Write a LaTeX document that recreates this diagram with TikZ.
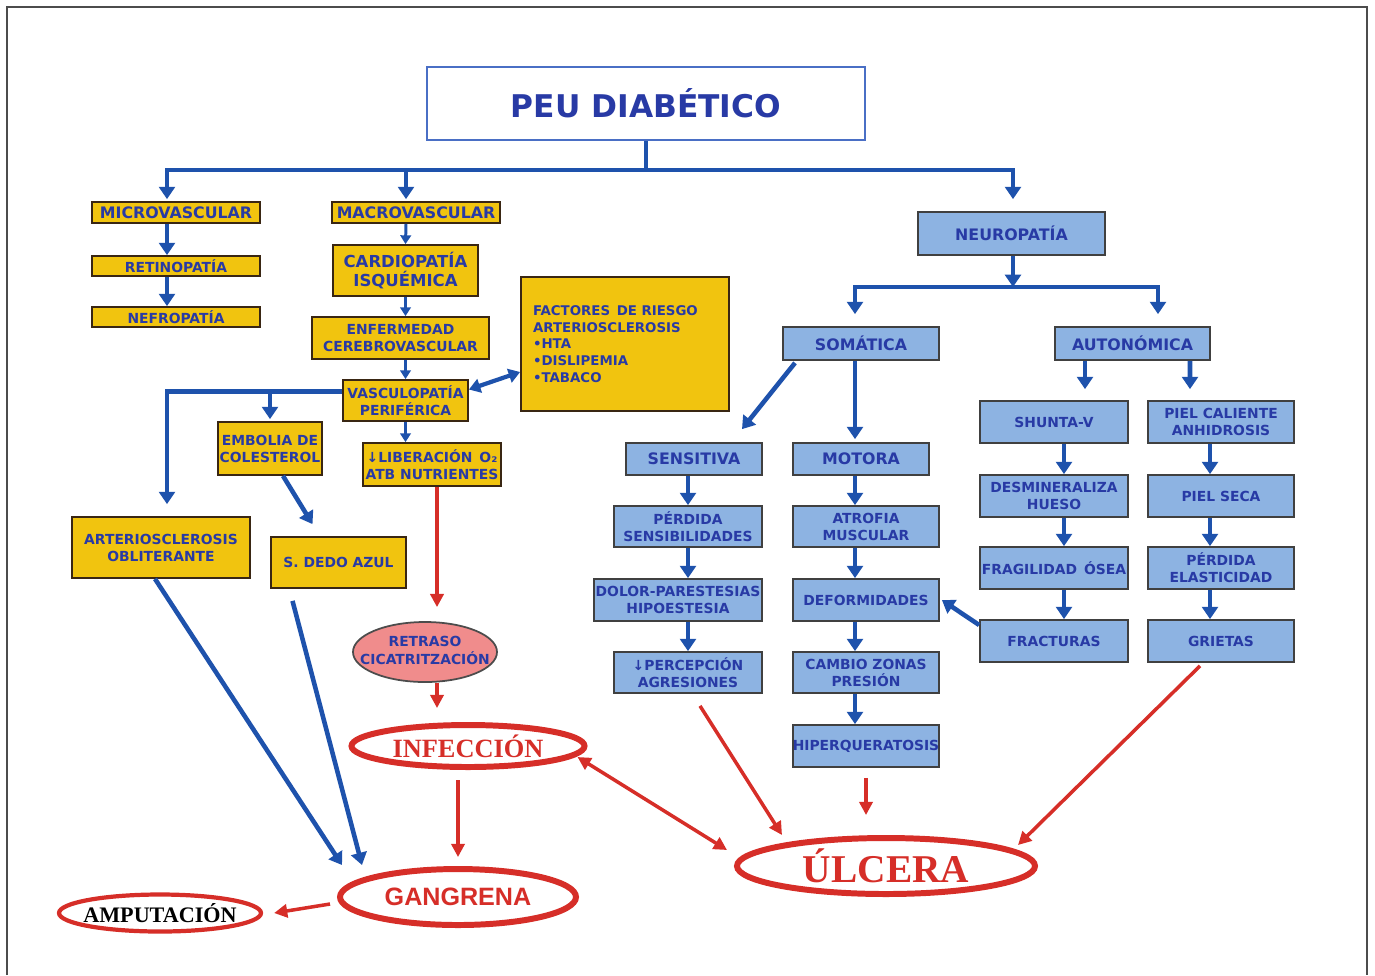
\documentclass[tikz,border=0pt]{standalone}
\usepackage{fontspec}
\setmainfont{DejaVu Sans}
\newfontfamily\timesfont{Liberation Serif}
\newfontfamily\arialfont{Liberation Sans}
\usepackage{tikz}
\usetikzlibrary{positioning, arrows.meta, shapes.geometric, calc}

\definecolor{gold}{RGB}{241,196,15}
\definecolor{skyb}{RGB}{141,179,226}
\definecolor{txtblue}{RGB}{40,58,165}
\definecolor{arrblue}{RGB}{30,82,172}
\definecolor{arrred}{RGB}{214,46,40}
\definecolor{rosa}{RGB}{240,140,140}
\definecolor{titleline}{RGB}{74,111,197}

\newlength\pxl
\setlength\pxl{0.02cm}

\tikzset{
    sz/.style 2 args={minimum width=#1\pxl, minimum height=#2\pxl},
    ybox/.style={rectangle, draw=black!70!brown, line width=1pt, fill=gold, text=txtblue,
        inner sep=0pt, align=center, font=\bfseries\fontsize{7.9}{9.6}\selectfont},
    bbox/.style={ybox, draw=black!75, fill=skyb},
    hd/.style={font=\bfseries\fontsize{9}{10.8}\selectfont},
    titlebox/.style={rectangle, draw=titleline, line width=1.2pt, fill=white, text=txtblue,
        font=\bfseries\fontsize{17.8}{20}\selectfont},
    redell/.style={ellipse, draw=arrred, line width=3.4pt, fill=white, inner sep=0pt, text=arrred},
    barrow/.style={draw=arrblue, line width=2.6pt, -{Triangle[width=9pt, length=7pt]}},
    sbarrow/.style={draw=arrblue, line width=1.7pt, -{Triangle[width=6pt, length=5pt]}},
    rarrow/.style={draw=arrred, line width=2pt, -{Triangle[width=7.5pt, length=7.5pt]}},
    rboth/.style={draw=arrred, line width=2pt, {Triangle[width=7.5pt, length=7.5pt]}-{Triangle[width=7.5pt, length=7.5pt]}},
    bboth/.style={draw=arrblue, line width=2.4pt, {Triangle[width=8pt, length=6.5pt]}-{Triangle[width=8pt, length=6.5pt]}},
}

\begin{document}
\begin{tikzpicture}[x=0.02cm, y=-0.02cm]
    \useasboundingbox (0,0) rectangle (1375,975);
    % page frame
    \draw[black!70, line width=1pt] (7,975) -- (7,7) -- (1367,7) -- (1367,975);

    % title
    \node[titlebox, sz={438}{73}] (peu) at (646,103.5) {PEU DIABÉTICO};
    \coordinate (bus) at (646,170);

    % vascular branch
    \node[ybox, hd, sz={168}{21}] (micro) at (176,212.5) {MICROVASCULAR};
    \node[ybox, sz={168}{20}] (retino) at (176,266) {RETINOPATÍA};
    \node[ybox, sz={168}{20}] (nefro) at (176,317) {NEFROPATÍA};

    \node[ybox, hd, sz={168}{21}] (macro) at (416,212.5) {MACROVASCULAR};
    \node[ybox, sz={145}{51}, font=\bfseries\fontsize{9.4}{10.8}\selectfont] (cardio) at (405.5,270.5) {CARDIOPATÍA\\ISQUÉMICA};
    \node[ybox, sz={177}{42}] (enfer) at (400.5,338) {ENFERMEDAD\\CEREBROVASCULAR};
    \node[ybox, sz={125}{41}] (vasc) at (405.5,400.5) {VASCULOPATÍA\\PERIFÉRICA};
    \node[ybox, sz={138}{43}] (liber) at (432,464.5) {↓LIBERACIÓN\enspace O₂\\ATB NUTRIENTES};
    \node[ybox, sz={208}{134}, text width=184\pxl, inner xsep=12\pxl, align=left,
          font=\bfseries\fontsize{7.6}{9.5}\selectfont] (factors) at (625,344)
        {FACTORES\enspace DE RIESGO\\ARTERIOSCLEROSIS\\•HTA\\•DISLIPEMIA\\•TABACO};
    \node[ybox, sz={104}{53}] (embol) at (270,448.5) {EMBOLIA DE\\COLESTEROL};
    \node[ybox, sz={178}{61}] (arter) at (161,547.5) {ARTERIOSCLEROSIS\\OBLITERANTE};
    \node[ybox, sz={135}{51}] (dedo) at (338.5,562.5) {S. DEDO AZUL};

    % neuropathy branch
    \node[bbox, hd, sz={187}{43}] (neuro) at (1011.5,233.5) {NEUROPATÍA};
    \coordinate (nsplit) at (1013,287);
    \node[bbox, hd, sz={156}{33}] (soma) at (861,343.5) {SOMÁTICA};
    \node[bbox, hd, sz={155}{33}] (auto) at (1132.5,343.5) {AUTONÓMICA};

    \node[bbox, hd, sz={136}{32}] (sens) at (694,459) {SENSITIVA};
    \node[bbox, sz={148}{41}] (perd) at (688,526.5) {PÉRDIDA\\SENSIBILIDADES};
    \node[bbox, sz={168}{42}] (dolor) at (678,600) {DOLOR-PARESTESIAS\\HIPOESTESIA};
    \node[bbox, sz={148}{41}] (percep) at (688,672.5) {↓PERCEPCIÓN\\AGRESIONES};

    \node[bbox, hd, sz={136}{32}] (motora) at (861,459) {MOTORA};
    \node[bbox, sz={146}{41}] (atrof) at (866,526.5) {ATROFIA\\MUSCULAR};
    \node[bbox, sz={146}{42}] (deform) at (866,600) {DEFORMIDADES};
    \node[bbox, sz={146}{41}] (cambio) at (866,672.5) {CAMBIO ZONAS\\PRESIÓN};
    \node[bbox, sz={146}{42}] (hiper) at (866,746) {HIPERQUERATOSIS};

    \node[bbox, sz={148}{42}] (shunt) at (1054,422) {SHUNTA-V};
    \node[bbox, sz={148}{42}] (desm) at (1054,496) {DESMINERALIZA\\HUESO};
    \node[bbox, sz={148}{42}] (frag) at (1054,568) {FRAGILIDAD\enspace ÓSEA};
    \node[bbox, sz={148}{42}] (fract) at (1054,641) {FRACTURAS};

    \node[bbox, sz={146}{42}] (pielc) at (1221,422) {PIEL CALIENTE\\ANHIDROSIS};
    \node[bbox, sz={146}{42}] (piels) at (1221,496) {PIEL SECA};
    \node[bbox, sz={146}{42}] (perde) at (1221,568) {PÉRDIDA\\ELASTICIDAD};
    \node[bbox, sz={146}{42}] (griet) at (1221,641) {GRIETAS};

    % outcomes
    \node[ellipse, draw=black!70, line width=1pt, fill=rosa, inner sep=0pt, sz={144}{60}, text=txtblue,
          font=\bfseries\fontsize{7.9}{9.6}\selectfont] (retraso) at (425,652)
        {\makebox[0pt]{\begin{tabular}{@{}c@{}}RETRASO\\CICATRITZACIÓN\end{tabular}}};
    \node[redell, sz={233}{42}, font=\timesfont\bfseries\fontsize{15}{16}\selectfont] (infec) at (468,746) {INFECCIÓN};
    \node[redell, sz={236}{56}, font=\arialfont\bfseries\fontsize{14.3}{16}\selectfont] (gang) at (458,897) {GANGRENA};
    \node[redell, line width=2.4pt, sz={202}{37}, text=black, font=\timesfont\bfseries\fontsize{12.6}{14}\selectfont] (amput) at (160,913)
        {\makebox[0pt]{AMPUTACIÓN}};
    \node[redell, sz={298}{56}, font=\timesfont\bfseries\fontsize{22.4}{24}\selectfont] (ulcer) at (886,866) {ÚLCERA};

    % blue connectors, top
    \draw[draw=arrblue, line width=2.6pt] (peu.south) -- (bus);
    \draw[barrow, shorten >=2\pxl] (bus) -| ([xshift=-9\pxl]micro.north);
    \draw[barrow, shorten >=2\pxl] (bus) -| ([xshift=-10\pxl]macro.north);
    \draw[barrow, shorten >=12\pxl] (bus) -| ([xshift=1.5\pxl]neuro.north);

    \draw[barrow] ([xshift=-9\pxl]micro.south) -- ([xshift=-9\pxl]retino.north);
    \draw[barrow] ([xshift=-9\pxl]retino.south) -- ([xshift=-9\pxl]nefro.north);

    \draw[sbarrow] ([xshift=-10\pxl]macro.south) -- (cardio.north);
    \draw[sbarrow] (cardio.south) -- (cardio.south |- enfer.north);
    \draw[sbarrow] (vasc.north |- enfer.south) -- (vasc.north);
    \draw[sbarrow] (vasc.south) -- (vasc.south |- liber.north);
    \draw[bboth] ([yshift=11\pxl]vasc.east) -- ([yshift=-28\pxl]factors.west);

    \coordinate (vb) at ([yshift=9\pxl]vasc.west);
    \draw[barrow, shorten >=12\pxl] (vb) -| ([xshift=6\pxl]arter.north);
    \draw[barrow, shorten >=2\pxl] (embol.north |- vb) -- (embol.north);
    \draw[barrow] ([xshift=13\pxl]embol.south) -- ([xshift=-26\pxl, yshift=12\pxl]dedo.north);
    \draw[barrow] ([xshift=-6\pxl]arter.south) -- ([xshift=-116\pxl, yshift=1\pxl]gang.north);
    \draw[barrow] ([xshift=-46\pxl, yshift=-12\pxl]dedo.south) -- ([xshift=-96\pxl, yshift=1\pxl]gang.north);

    % blue connectors, neuropathy
    \draw[barrow] (neuro.south -| nsplit) -- (nsplit);
    \draw[barrow, shorten >=12\pxl] (nsplit) -| ([xshift=-6\pxl]soma.north);
    \draw[barrow, shorten >=12\pxl] (nsplit) -| ([xshift=25.5\pxl]auto.north);
    \draw[barrow] ([xshift=-66\pxl, yshift=-2\pxl]soma.south) -- ([xshift=48\pxl, yshift=13\pxl]sens.north);
    \draw[barrow] ([xshift=-6\pxl]soma.south) -- ([xshift=-6\pxl, yshift=3\pxl]motora.north);

    \draw[barrow] ([xshift=-6\pxl]sens.south) -- (perd.north);
    \draw[barrow] (perd.south) -- ([xshift=10\pxl]dolor.north);
    \draw[barrow] ([xshift=10\pxl]dolor.south) -- (percep.north);

    \draw[barrow] ([xshift=-6\pxl]motora.south) -- ([xshift=-11\pxl]atrof.north);
    \foreach \a/\b in {atrof/deform, deform/cambio, cambio/hiper}
        \draw[barrow] ([xshift=-11\pxl]\a.south) -- ([xshift=-11\pxl]\b.north);

    \draw[barrow] ([xshift=-47.5\pxl]auto.south) -- ([xshift=31\pxl, yshift=11\pxl]shunt.north);
    \draw[barrow] ([xshift=57.5\pxl]auto.south) -- ([xshift=-31\pxl, yshift=11\pxl]pielc.north);
    \foreach \a/\b in {shunt/desm, desm/frag, frag/fract}
        \draw[barrow] ([xshift=10\pxl]\a.south) -- ([xshift=10\pxl]\b.north);
    \foreach \a/\b in {pielc/piels, piels/perde, perde/griet}
        \draw[barrow] ([xshift=-11\pxl]\a.south) -- ([xshift=-11\pxl]\b.north);
    \draw[barrow] ([yshift=16\pxl]fract.west) -- ([xshift=2\pxl]deform.east);

    % red connectors
    \draw[rarrow] ([xshift=5\pxl]liber.south) -- ([xshift=12\pxl, yshift=14\pxl]retraso.north);
    \draw[rarrow] ([xshift=12\pxl]retraso.south) -- ([xshift=-31\pxl, yshift=14\pxl]infec.north);
    \draw[rarrow] ([xshift=-10\pxl, yshift=-10\pxl]infec.south) -- ([yshift=9\pxl]gang.north);
    \draw[rarrow] ([xshift=-7\pxl, yshift=-7\pxl]gang.west) -- ([xshift=11\pxl]amput.east);
    \draw[rboth] ([xshift=-10\pxl, yshift=-11\pxl]infec.east) -- ([xshift=-7\pxl, yshift=16\pxl]ulcer.west);
    \draw[rarrow] ([xshift=12\pxl, yshift=-12\pxl]percep.south) -- ([xshift=-104\pxl]ulcer.north);
    \draw[rarrow] ([yshift=-10\pxl]hiper.south) -- ([xshift=-20\pxl, yshift=20\pxl]ulcer.north);
    \draw[rarrow] ([xshift=-21\pxl, yshift=-3\pxl]griet.south) -- ([xshift=132\pxl, yshift=-10\pxl]ulcer.north);
\end{tikzpicture}
\end{document}
